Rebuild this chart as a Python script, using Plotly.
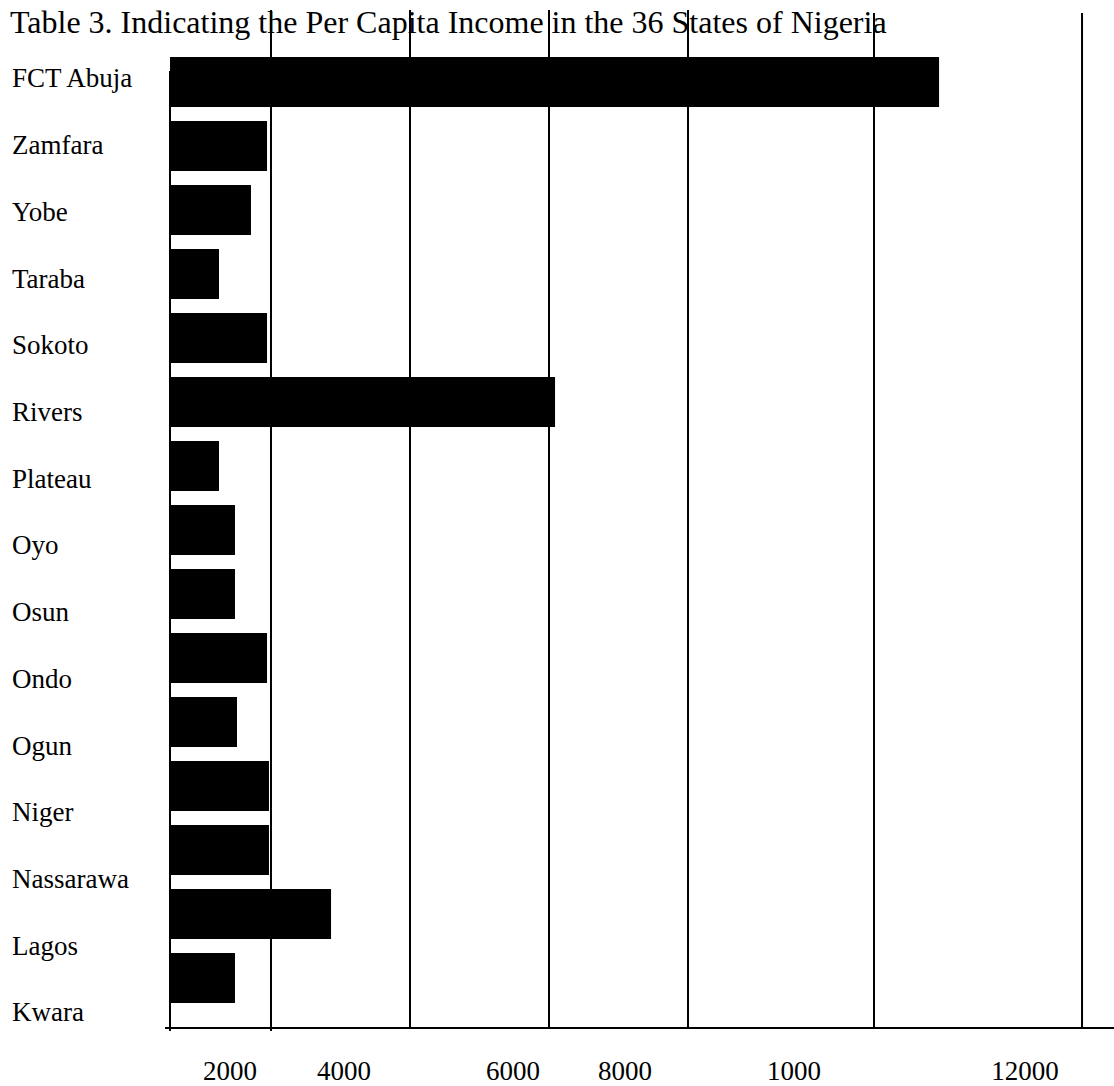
import plotly.graph_objects as go

# ---------------- data ----------------
states = ["FCT Abuja", "Zamfara", "Yobe", "Taraba", "Sokoto", "Rivers", "Plateau",
          "Oyo", "Osun", "Ondo", "Ogun", "Niger", "Nassarawa", "Lagos", "Kwara"]
per_capita_income = [11065, 1396, 1165, 705, 1396, 5540, 705,
                     935, 935, 1396, 964, 1424, 1424, 2317, 935]

tick_labels = ["2000", "4000", "6000", "8000", "1000", "12000"]
tick_values = [863, 2504, 4935, 6547, 8978, 12302]
grid_values = [1453, 3453, 5453, 7453, 10129, 13122]

title_text = "Table 3. Indicating the Per Capita Income in the 36 States of Nigeria"

# ---------------- layout constants ----------------
W, H = 1114, 1086
ML, MR, MT, MB = 170, 0, 50, 76
PH = H - MT - MB          # plot height in px
PW = W - ML - MR
FONT = "Liberation Serif, Times New Roman, serif"


def py2paper(py):
    return 1 - (py - MT) / PH


def px2paper(px):
    return (px - ML) / PW


fig = go.Figure()
fig.add_trace(go.Bar(
    x=per_capita_income, y=states, orientation="h",
    marker=dict(color="black", line=dict(width=0)),
    width=0.78, hoverinfo="x+y",
))

shapes = []
# vertical grid lines (data x positions)
for i, gv in enumerate(grid_values):
    shapes.append(dict(type="line", xref="x", yref="paper",
                       x0=gv, x1=gv,
                       y0=py2paper(1031 if i == 0 else 1028),
                       y1=py2paper(10 if i < 4 else 13),
                       line=dict(color="black", width=2)))
# left vertical line at the value origin
shapes.append(dict(type="line", xref="paper", yref="paper", x0=0, x1=0,
                   y0=py2paper(1031), y1=py2paper(71),
                   line=dict(color="black", width=2)))
# horizontal axis line
shapes.append(dict(type="line", xref="paper", yref="paper",
                   x0=px2paper(165), x1=1, y0=py2paper(1028), y1=py2paper(1028),
                   line=dict(color="black", width=2)))

annotations = []
for k, s in enumerate(states):
    annotations.append(dict(text=s, xref="paper", yref="paper",
                            x=px2paper(10), y=py2paper(78.5 + 66.7 * k),
                            xanchor="left", yanchor="middle", showarrow=False,
                            font=dict(family=FONT, size=27, color="black")))

fig.update_layout(
    width=W, height=H,
    margin=dict(l=ML, r=MR, t=MT, b=MB, pad=0, autoexpand=False),
    paper_bgcolor="white", plot_bgcolor="white",
    showlegend=False,
    font=dict(family=FONT, size=27, color="black"),
    title=dict(text=title_text, x=10 / W, xanchor="left", xref="container",
               y=1 - 22 / H, yanchor="middle", yref="container",
               font=dict(family=FONT, size=32, color="black")),
    xaxis=dict(range=[0, 13582], showgrid=False, zeroline=False, showline=False,
               tickvals=tick_values, ticktext=tick_labels, ticks="",
               ticklabelstandoff=42, automargin=False,
               tickfont=dict(family=FONT, size=27, color="black")),
    yaxis=dict(categoryorder="array", categoryarray=states, range=[14.5, -0.5],
               showgrid=False, zeroline=False, showline=False, automargin=False,
               showticklabels=False, ticks=""),
    shapes=shapes,
    annotations=annotations,
    bargap=0.22,
)

fig.write_html("out.html", config={"displayModeBar": False},
               post_script="document.body.style.margin='0';")
